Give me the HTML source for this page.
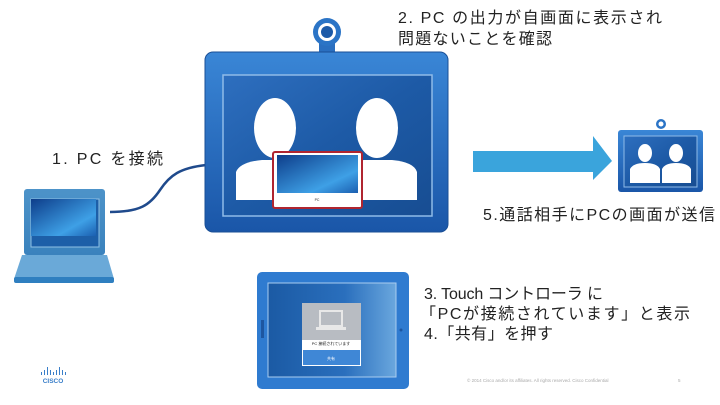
<!DOCTYPE html>
<html><head><meta charset="utf-8"><style>
html,body{margin:0;padding:0;background:#fff;}
svg{display:block;}
text{font-family:"Liberation Sans","Noto Sans CJK JP",sans-serif;fill:#222;}
</style></head><body>
<svg width="720" height="405" viewBox="0 0 720 405" xmlns="http://www.w3.org/2000/svg">
<defs>
<linearGradient id="frame" x1="0" y1="0" x2="0" y2="1"><stop offset="0" stop-color="#3a86d6"/><stop offset="1" stop-color="#1a56a8"/></linearGradient>
<linearGradient id="scr" x1="0" y1="0" x2="1" y2="1"><stop offset="0" stop-color="#2e6fbf"/><stop offset="0.5" stop-color="#1d5aa6"/><stop offset="1" stop-color="#174d92"/></linearGradient>
<linearGradient id="pcs" x1="0" y1="0" x2="1" y2="1"><stop offset="0" stop-color="#0d3d8a"/><stop offset="0.7" stop-color="#3ea0e6"/><stop offset="1" stop-color="#1b5fb0"/></linearGradient>
<linearGradient id="tab" x1="0" y1="0" x2="1" y2="0"><stop offset="0" stop-color="#1b5aa4"/><stop offset="0.6" stop-color="#2a6fbd"/><stop offset="1" stop-color="#6aa7de"/></linearGradient>
<linearGradient id="lap" x1="0" y1="0" x2="0" y2="1"><stop offset="0" stop-color="#4d93c9"/><stop offset="1" stop-color="#3a82bd"/></linearGradient>
</defs>

<path d="M110 212 C140 212,150 205,160 190 C170 175,180 168,206 165" fill="none" stroke="#1f4a8c" stroke-width="2.5"/>

<rect x="319" y="40" width="16" height="16" fill="#2a6fc0"/>
<circle cx="327" cy="32" r="14" fill="#2b74c6"/>
<circle cx="327" cy="32" r="9" fill="#fff"/>
<circle cx="327" cy="32" r="6" fill="#1c5aa8"/>
<rect x="205" y="52" width="243" height="180" rx="8" fill="url(#frame)" stroke="#1a4f96" stroke-width="1"/>
<rect x="223" y="75" width="209" height="141" fill="url(#scr)" stroke="#8fbbe8" stroke-width="1.5"/>
<ellipse cx="275" cy="128" rx="21" ry="30" fill="#fff"/>
<ellipse cx="377" cy="128" rx="21" ry="30" fill="#fff"/>
<path d="M236 200 L236 172 Q240 162 262 160 L290 160 Q312 162 315 172 L315 200 Z" fill="#fff"/>
<path d="M338 200 L338 172 Q342 162 364 160 L392 160 Q414 162 417 172 L417 200 Z" fill="#fff"/>
<rect x="273" y="152" width="89" height="56" rx="2" fill="#fff" stroke="#b02530" stroke-width="2"/>
<rect x="277" y="155" width="81" height="38" fill="url(#pcs)"/>
<text x="317" y="201" font-size="3.5" text-anchor="middle">PC</text>

<rect x="24" y="189" width="81" height="66" rx="3" fill="url(#lap)"/>
<rect x="31" y="199" width="68" height="48" fill="#1d5fa8" stroke="#8fc0e4" stroke-width="1"/>
<rect x="31" y="199" width="65" height="37" fill="url(#pcs)"/>
<path d="M22 255 L107 255 L114 279 L14 279 Z" fill="#6aa9d8"/>
<rect x="14" y="277" width="100" height="6" rx="2" fill="#2f7fc0"/>

<path d="M473 151 L593 151 L593 136 L612 161 L593 180 L593 172 L473 172 Z" fill="#3aa4dc"/>

<circle cx="661" cy="124" r="5" fill="#2b74c6"/><circle cx="661" cy="124" r="2.5" fill="#fff"/>
<rect x="618" y="130" width="85" height="62" rx="3" fill="url(#frame)"/>
<rect x="624" y="136" width="73" height="51" fill="url(#scr)" stroke="#8fbbe8"/>
<ellipse cx="645" cy="153" rx="7" ry="9" fill="#fff"/>
<ellipse cx="676" cy="153" rx="7" ry="9" fill="#fff"/>
<path d="M630 183 L630 169 Q633 163 645 163 Q657 163 660 169 L660 183Z" fill="#fff"/>
<path d="M662 183 L662 169 Q665 163 676 163 Q688 163 691 169 L691 183Z" fill="#fff"/>

<rect x="257" y="272" width="152" height="117" rx="5" fill="#2f7bd0"/>
<rect x="268" y="283" width="128" height="94" fill="url(#tab)" stroke="#a9ccef" stroke-width="1"/>
<rect x="261" y="320" width="3" height="18" fill="#1d56a0"/>
<circle cx="401" cy="330" r="1.5" fill="#1d56a0"/>
<rect x="302" y="303" width="59" height="63" fill="#fff"/>
<rect x="302" y="303" width="59" height="37" fill="#b8bcc2"/>
<rect x="320" y="311" width="22" height="15" fill="none" stroke="#e8e8e8" stroke-width="2"/>
<rect x="316" y="327" width="30" height="3" fill="#e8e8e8"/>
<text x="331" y="345" font-size="4" text-anchor="middle">PC 接続されています</text>
<rect x="303" y="350" width="57" height="15" fill="#3f87d6"/>
<text x="331" y="360" font-size="4" text-anchor="middle" style="fill:#fff">共有</text>

<text x="52" y="164" font-size="16" textLength="111" lengthAdjust="spacing">1. PC を接続</text>
<text x="398" y="23" font-size="16" textLength="264" lengthAdjust="spacing">2. PC の出力が自画面に表示され</text>
<text x="398" y="44" font-size="16" textLength="154" lengthAdjust="spacing">問題ないことを確認</text>
<text x="483" y="220" font-size="16" textLength="232" lengthAdjust="spacing">5.通話相手にPCの画面が送信</text>
<text x="424" y="299" font-size="16" textLength="179" lengthAdjust="spacing">3. Touch コントローラ に</text>
<text x="420" y="319" font-size="16" textLength="270" lengthAdjust="spacing">「PCが接続されています」と表示</text>
<text x="424" y="339" font-size="16" textLength="129" lengthAdjust="spacing">4.「共有」を押す</text>

<g fill="#3a7fc9">
<rect x="41" y="372" width="1" height="3"/><rect x="44" y="370" width="1" height="5"/><rect x="47" y="367" width="1" height="8"/><rect x="50" y="370" width="1" height="5"/><rect x="53" y="372" width="1" height="3"/><rect x="56" y="370" width="1" height="5"/><rect x="59" y="367" width="1" height="8"/><rect x="62" y="370" width="1" height="5"/><rect x="65" y="372" width="1" height="3"/>
</g>
<text x="53" y="383" font-size="6.5" font-weight="bold" text-anchor="middle" style="fill:#3a7fc9">CISCO</text>
<text x="467" y="382" font-size="4.5" style="fill:#aaa">© 2014 Cisco and/or its affiliates. All rights reserved.   Cisco Confidential</text>
<text x="678" y="382" font-size="4.5" style="fill:#aaa">5</text>
</svg>
</body></html>
